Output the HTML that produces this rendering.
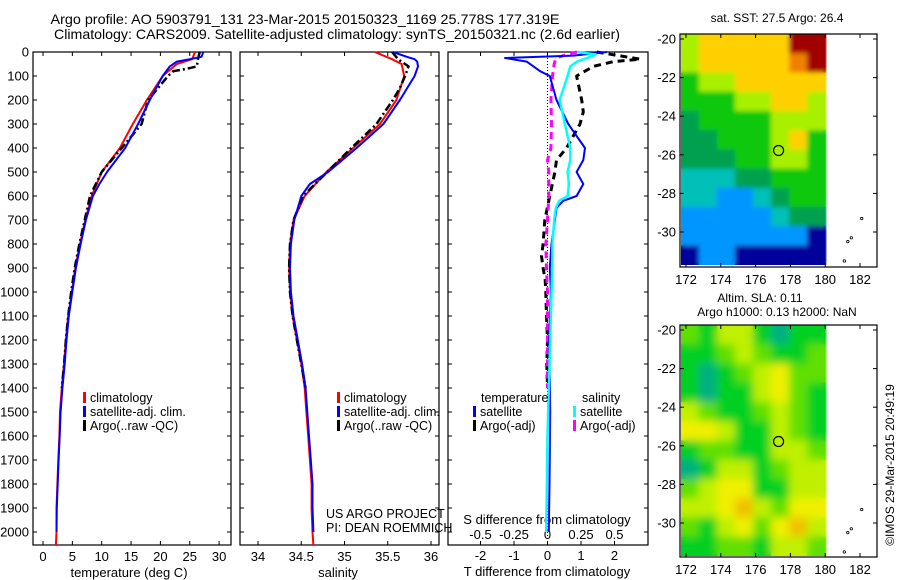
<!DOCTYPE html>
<html><head><meta charset="utf-8"><style>
html,body{margin:0;padding:0;background:#fff;}
svg{display:block;font-family:"Liberation Sans",sans-serif;}
</style></head><body>
<svg id="fig" width="900" height="580" viewBox="0 0 900 580" xmlns="http://www.w3.org/2000/svg">
<defs>
<filter id="blurS" x="-10%" y="-10%" width="120%" height="120%"><feGaussianBlur stdDeviation="2.5"/></filter>
<filter id="blurL" x="-10%" y="-10%" width="120%" height="120%"><feGaussianBlur stdDeviation="4.5"/></filter>
<clipPath id="clipSst"><rect x="681" y="34" width="146" height="231"/></clipPath>
<clipPath id="clipSla"><rect x="681" y="325" width="146" height="231"/></clipPath>
</defs>
<g font-size="14" text-anchor="middle" fill="#000">
<text x="305" y="24" textLength="509" lengthAdjust="spacingAndGlyphs">Argo profile: AO 5903791_131 23-Mar-2015 20150323_1169 25.778S 177.319E</text>
<text x="337" y="39" textLength="566" lengthAdjust="spacingAndGlyphs">Climatology: CARS2009. Satellite-adjusted climatology: synTS_20150321.nc (2.6d earlier)</text>
</g>
<text x="777" y="22" font-size="12" text-anchor="middle">sat. SST: 27.5 Argo: 26.4</text>
<text x="760" y="302" font-size="12" text-anchor="middle">Altim. SLA: 0.11</text>
<text x="777" y="316" font-size="12" text-anchor="middle">Argo h1000: 0.13 h2000: NaN</text>
<text transform="translate(894,465) rotate(-90)" font-size="12" text-anchor="middle">©IMOS 29-Mar-2015 20:49:19</text>
<g id="layer"></g>
</svg>
<script>
// ---------- profile data ----------
const climDepth = [0,30,50,100,200,300,400,500,600,700,800,900,1000,1100,1200,1300,1400,1500,1600,1700,1800,1900,2000,2054];
const climTemp  = [25.9,25.4,22.8,20.4,17.7,15.3,13.1,10.0,8.3,7.2,6.3,5.5,4.9,4.3,3.9,3.6,3.2,2.9,2.8,2.6,2.45,2.3,2.3,2.2];
const climSal   = [35.35,35.55,35.66,35.69,35.6,35.41,35.1,34.79,34.54,34.41,34.37,34.36,34.37,34.4,34.45,34.5,34.54,34.56,34.58,34.6,34.62,34.62,34.63,34.64];
const satDepth  = [0,20,30,40,60,100,200,300,400,500,550,600,700,800,900,1000,1100,1200,1300,1400,1500,1600,1700,1800,1900,2000];
const satTemp   = [27.3,27.0,25.0,22.8,21.6,20.4,18.2,16.2,14.0,10.9,9.6,8.5,7.3,6.4,5.6,5.0,4.4,4.0,3.7,3.3,3.0,2.85,2.65,2.5,2.35,2.3];
const satSal    = [35.56,35.72,35.81,35.84,35.85,35.81,35.64,35.45,35.14,34.81,34.6,34.5,34.42,34.38,34.37,34.38,34.41,34.46,34.51,34.55,34.57,34.59,34.61,34.63,34.63,34.64];
const argoDepth = [0,30,60,70,80,100,150,200,300,400,500,600,700,800,900,1000,1100,1200,1300,1400];
const argoTemp  = [26.7,26.4,26.2,24.5,22.2,21.3,19.6,17.9,16.8,13.4,10.0,8.0,7.1,6.2,5.4,4.8,4.3,3.9,3.6,3.2];
const argoSal   = [35.55,35.62,35.74,35.73,35.72,35.7,35.64,35.56,35.37,35.08,34.8,34.52,34.41,34.37,34.36,34.37,34.4,34.45,34.5,34.55];
// ---------- difference data ----------
const dSatTDepth = [0,15,25,40,80,100,200,300,350,400,450,500,550,600,620,650,700,800,900,1000,1200,1500,1800,2000];
const dSatT      = [1.77,0.77,-1.27,-0.62,-0.22,0.07,0.27,0.62,0.87,1.12,1.07,0.87,1.07,0.87,0.47,0.27,0.22,0.12,0.07,0.1,0.05,0.08,0.06,0.04];
const dArgoTDepth = [0,30,40,60,100,200,250,300,350,400,450,500,600,700,800,850,900,950,1000,1100,1200,1300,1400];
const dArgoT      = [1.47,2.77,1.97,1.37,0.87,1.02,1.07,0.97,0.77,0.57,0.27,0.22,0.07,-0.08,-0.13,-0.18,-0.13,-0.07,-0.05,-0.03,0.0,-0.02,0.0];
const dSatSDepth = [0,10,20,40,60,100,150,200,300,400,450,500,550,600,620,650,700,800,900,1200,1600,2000];
const dSatS      = [0.22,0.36,0.32,0.22,0.17,0.15,0.12,0.09,0.13,0.17,0.17,0.15,0.16,0.15,0.087,0.062,0.05,0.037,0.035,0.02,0.0,-0.01];
const dArgoSDepth = [0,10,20,30,50,100,200,300,400,450,500,600,700,800,900,1000,1200,1400];
const dArgoS      = [0.22,0.15,0.09,0.06,0.05,0.037,0.025,0.03,0.025,0.0,0.01,0.01,0.0,-0.012,-0.008,0.0,0.0,0.0];
// ---------- map data (colour level indices) ----------
const sstLevels = [
 [5,6,6,6,6,6,8,8],[5,6,6,6,6,6,7,8],[4,5,5,6,6,6,6,6],[4,4,4,5,5,6,6,5],
 [3,4,4,4,4,5,5,5],[3,3,4,4,4,5,6,4],[3,3,3,4,4,5,5,4],[2,2,2,3,3,4,4,4],
 [2,2,1,1,2,3,4,4],[1,1,1,1,1,2,3,3],[1,1,1,1,1,1,1,0],[0,1,1,0,0,0,0,0]];
const slaLevels = [
 [2,1,3,3,1,0,1,1],[1,1,2,3,2,1,1,2],[1,0,1,2,3,4,2,2],[1,0,1,1,3,4,2,1],
 [3,2,1,1,2,3,2,1],[4,4,3,1,1,3,2,1],[1,2,2,1,1,3,3,2],[0,1,3,3,1,2,3,3],
 [2,3,4,4,1,1,3,3],[3,3,4,5,3,2,4,4],[2,1,3,4,2,4,5,3],[1,1,2,2,1,3,3,2]];
const depthTicks = [0,100,200,300,400,500,600,700,800,900,1000,1100,1200,1300,1400,1500,1600,1700,1800,1900,2000];
const tempTicks = [0,5,10,15,20,25,30];
const salTicks = [34,34.5,35,35.5,36];
const tdiffTicks = [-2,-1,0,1,2];
const sdiffTicks = [-0.5,-0.25,0,0.25,0.5];
const sdiffLabels = ["-0.5","-0.25","0","0.25","0.5"];
const lonTicks = [172,174,176,178,180,182];
const latTicks = [-20,-22,-24,-26,-28,-30];
const argoLon = 177.319, argoLat = -25.778;

const NS = "http://www.w3.org/2000/svg";
const layer = document.getElementById('layer');
function mk(tag, attrs, parent){
  const e = document.createElementNS(NS, tag);
  for (const k in attrs) e.setAttribute(k, attrs[k]);
  (parent||layer).appendChild(e);
  return e;
}
const yD = d => 52 + d*0.24;
const xT = t => 43 + t*5.87;
const xS = s => 258 + (s-34)*86.5;
const xDT = t => 547.5 + t*33.5;
const xDS = s => 547.5 + s*134;

function line(depths, vals, fx, color, w, dash, name){
  const pts = depths.map((d,i)=> fx(vals[i]).toFixed(1)+','+yD(d).toFixed(1)).join(' ');
  const p = mk('polyline',{points:pts,fill:'none',stroke:color,'stroke-width':w,'stroke-linejoin':'round'});
  if (dash) p.setAttribute('stroke-dasharray', dash);
  
  
}
function frame(x0,x1,y0,y1,name){
  const r = mk('rect',{x:x0,y:y0,width:x1-x0,height:y1-y0,fill:'none',stroke:'#000','stroke-width':1.2});
  
  
}
function txt(x,y,s,anchor,size,name){
  const t = mk('text',{x:x,y:y,'text-anchor':anchor||'start','font-size':size||12});
  t.textContent = s;
  
  
  return t;
}
function tick(x1,y1,x2,y2){
  const l = mk('line',{x1:x1,y1:y1,x2:x2,y2:y2,stroke:'#000','stroke-width':1});
  
  
}
function depthAxis(x0,x1,labels){
  depthTicks.forEach(d=>{
    const y = yD(d);
    tick(x0,y,x0+4,y); tick(x1,y,x1-4,y);
    if (labels) txt(x0-4,y+4.5,String(d),'end',13,'depth-tick-label');
  });
}
function legendEntry(x,y,color,label){
  const r = mk('rect',{x:x,y:y-10,width:3,height:11,fill:color});
  
  
  txt(x+7,y,label,'start',12.5,'legend-entry');
}

// ---- panel 1: temperature ----
frame(33,231,52,545,'temperature-panel-frame');
depthAxis(33,231,true);
tempTicks.forEach(t=>{ const x=xT(t); tick(x,52,x,56); tick(x,545,x,541); txt(x,561,String(t),'middle',13,'temperature-tick-label'); });
txt(129,577,'temperature (deg C)','middle',13,'temperature-axis-title');
line(climDepth, climTemp, xT, '#ff0000', 2, null, 'climatology-temperature-line');
line(argoDepth, argoTemp, xT, '#000000', 2.5, '8,3,2,3', 'argo-temperature-line');
line(satDepth, satTemp, xT, '#0000ff', 2, null, 'satellite-temperature-line');
legendEntry(83,402,'#ff0000','climatology');
legendEntry(83,416,'#0000ff','satellite-adj. clim.');
legendEntry(83,430,'#000000','Argo(..raw -QC)');

// ---- panel 2: salinity ----
frame(240,439,52,545,'salinity-panel-frame');
depthAxis(240,439,false);
salTicks.forEach(s=>{ const x=xS(s); tick(x,52,x,56); tick(x,545,x,541); txt(x,561,String(s),'middle',13,'salinity-tick-label'); });
txt(338,577,'salinity','middle',13,'salinity-axis-title');
line(climDepth, climSal, xS, '#ff0000', 2, null, 'climatology-salinity-line');
line(argoDepth, argoSal, xS, '#000000', 2.5, '8,3,2,3', 'argo-salinity-line');
line(satDepth, satSal, xS, '#0000ff', 2, null, 'satellite-salinity-line');
legendEntry(337,402,'#ff0000','climatology');
legendEntry(337,416,'#0000ff','satellite-adj. clim.');
legendEntry(337,430,'#000000','Argo(..raw -QC)');
txt(326,518,'US ARGO PROJECT','start',12.5,'project-credit');
txt(326,532,'PI: DEAN ROEMMICH','start',12.5,'pi-credit');

// ---- panel 3: differences ----
frame(448,648,52,545,'difference-panel-frame');
depthAxis(448,648,false);
tdiffTicks.forEach(t=>{ const x=xDT(t); tick(x,52,x,56); tick(x,545,x,541); txt(x,560,String(t),'middle',13,'t-difference-tick-label'); });
sdiffTicks.forEach((s,i)=>{ txt(xDS(s),539,sdiffLabels[i],'middle',13,'s-difference-tick-label'); });
txt(547,524,'S difference from climatology','middle',13,'s-difference-axis-title');
txt(547,576,'T difference from climatology','middle',13,'t-difference-axis-title');
const zl = mk('line',{x1:xDT(0),y1:52,x2:xDT(0),y2:545,stroke:'#000','stroke-width':1,'stroke-dasharray':'1,2'});


line(dArgoTDepth, dArgoT, xDT, '#000000', 3, '7,5', 'argo-t-difference-line');
line(dArgoSDepth, dArgoS, xDS, '#ff00ff', 3, '7,5', 'argo-s-difference-line');
line(dSatTDepth, dSatT, xDT, '#0000ff', 2, null, 'satellite-t-difference-line');
line(dSatSDepth, dSatS, xDS, '#00ffff', 2.5, null, 'satellite-s-difference-line');
txt(481,402,'temperature','start',12.5,'legend-temperature-heading');
txt(582,402,'salinity','start',12.5,'legend-salinity-heading');
legendEntry(473,416,'#0000ff','satellite');
legendEntry(473,430,'#000000','Argo(-adj)');
legendEntry(573,416,'#00ffff','satellite');
legendEntry(573,430,'#ff00ff','Argo(-adj)');

// ---- maps ----
const sstColors = ['#00009a','#0096ff','#00c0b8','#00a050','#10c810','#a8f000','#ffd000','#f08000','#a00000'];
const slaColors = ['#00b080','#00d020','#60e000','#c0f000','#f0f000','#f0c000'];
function drawMap(y0,y1,levels,colors,name,clipId,blurId){
  const lonX = lon => 686 + (lon-172)*17.4;
  const latY = lat => y0 + 5 + (-20-lat)*19.3;
  const nR = levels.length, nC = levels[0].length;
  const gx0 = lonX(171.7), gx1 = lonX(180), gy0 = y0, gy1 = latY(-31.7);
  const cw = (gx1-gx0)/nC, ch = (gy1-gy0)/nR;
  const base = mk('g',{'clip-path':'url(#'+clipId+')'});
  
  
  const soft = mk('g',{filter:'url(#'+blurId+')'}, mk('g',{'clip-path':'url(#'+clipId+')'}));
  [base, soft].forEach(g=>{
    levels.forEach((row,r)=>row.forEach((v,c)=>{
      const cell = mk('rect',{x:(gx0+c*cw).toFixed(2),y:(gy0+r*ch).toFixed(2),width:(cw+0.5).toFixed(2),height:(ch+0.5).toFixed(2),fill:colors[v]}, g);
      
      
    }));
  });
  frame(680,877,y0,y1,name+'-frame');
  lonTicks.forEach(l=>{ const x=lonX(l); tick(x,y0,x,y0+4); tick(x,y1,x,y1-4); txt(x,y1+17,String(l),'middle',13,name+'-lon-label'); });
  latTicks.forEach(l=>{ const y=latY(l); tick(680,y,684,y); tick(877,y,873,y); txt(676,y+4.5,String(l),'end',13,name+'-lat-label'); });
  const c = mk('circle',{cx:lonX(argoLon),cy:latY(argoLat),r:5,fill:'none',stroke:'#000','stroke-width':1.2});
  
  
  [[182.1,-29.3],[181.5,-30.3],[181.3,-30.5],[181.1,-31.5]].forEach(p=>{
    const isl = mk('circle',{cx:lonX(p[0]),cy:latY(p[1]),r:1.2,fill:'none',stroke:'#000','stroke-width':0.8});
    
    
  });
}
drawMap(34,267,sstLevels,sstColors,'sst-map','clipSst','blurS');
drawMap(325,557,slaLevels,slaColors,'sla-map','clipSla','blurL');
</script>
</body></html>
